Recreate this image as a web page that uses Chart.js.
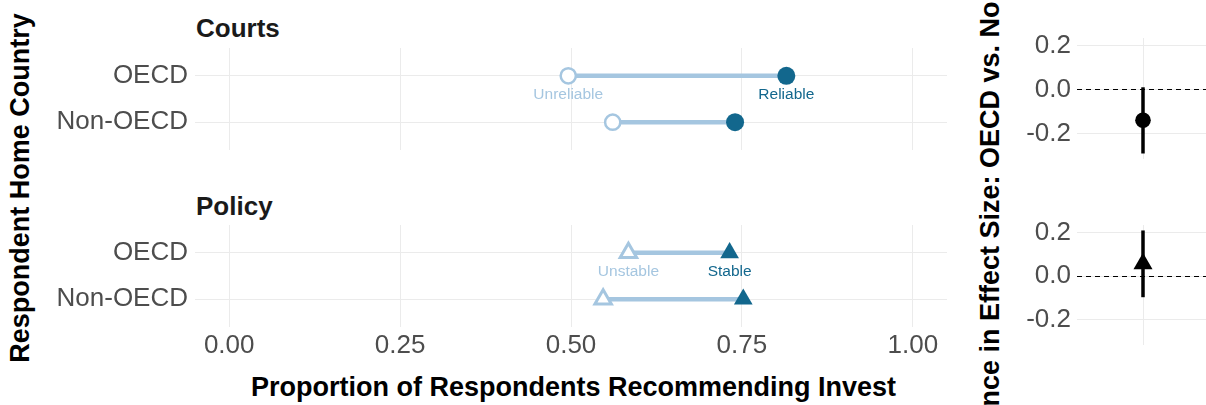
<!DOCTYPE html>
<html>
<head>
<meta charset="utf-8">
<script src="https://cdn.jsdelivr.net/npm/chart.js@4/dist/chart.umd.min.js"></script>
<style>
  html, body { margin: 0; padding: 0; background: #fff; }
  body { position: relative; width: 1206px; height: 405px; overflow: hidden; font-family: "Liberation Sans", Arial, Helvetica, sans-serif; }
  canvas { position: absolute; }
  .txt { position: absolute; white-space: nowrap; font-weight: bold; font-size: 27px; line-height: 27px; color: #000; }
  .strip { color: #1a1a1a; font-size: 26px; line-height: 26px; }
  .rot { height: 30px; line-height: 30px; text-align: center; transform: rotate(-90deg); }
</style>
</head>
<body>
<div class="txt strip" style="left:196px; top:15px;">Courts</div>
<div class="txt strip" style="left:196px; top:193px;">Policy</div>
<div class="txt" style="left:195px; top:374px; width:757px; text-align:center;">Proportion of Respondents Recommending Invest</div>
<div class="txt rot" style="left:-180.5px; top:173px; width:400px;">Respondent Home Country</div>
<div class="txt rot" style="left:640px; top:180px; width:700px;">Difference in Effect Size: OECD vs. Non-OECD</div>

<canvas id="courts" width="960" height="102" style="left:0; top:48px;"></canvas>
<canvas id="policy" width="960" height="142" style="left:0; top:225px;"></canvas>
<canvas id="diffCourts" width="249" height="139" style="left:960px; top:20px;"></canvas>
<canvas id="diffPolicy" width="249" height="138" style="left:960px; top:207px;"></canvas>

<script>
// data
const rowLabels = ['OECD', 'Non-OECD'];
const xTickValues = [0, 0.25, 0.5, 0.75, 1];
const courtsUnreliable = [0.496, 0.561];
const courtsReliable = [0.815, 0.740];
const policyUnstable = [0.584, 0.547];
const policyStable = [0.732, 0.752];
const courtsLabels = ['Unreliable', 'Reliable'];
const policyLabels = ['Unstable', 'Stable'];

const diffTicks = [-0.2, 0, 0.2];
const diffEstimate = [-0.14, 0.056];
const diffLower = [-0.291, -0.097];
const diffUpper = [0.01, 0.209];

const DARK = '#12678D';
const LIGHT = '#A5C6E0';
const GRID = '#EBEBEB';
const TICK = '#4D4D4D';
const FONT = '"Liberation Sans", Arial, Helvetica, sans-serif';

Chart.defaults.font.family = FONT;
Chart.defaults.animation = false;

// text labels under the OECD row
const pointLabels = {
    id: 'pointLabels',
    afterDatasetsDraw(chart, args, opts) {
        const { ctx, scales: { x, y } } = chart;
        ctx.save();
        ctx.font = '15.5px ' + FONT;
        ctx.textAlign = 'center';
        ctx.textBaseline = 'middle';
        opts.items.forEach(it => {
            ctx.fillStyle = it.color;
            ctx.fillText(it.text, x.getPixelForValue(it.x), y.getPixelForValue(it.y));
        });
        ctx.restore();
    }
};

// dashed reference line at 0
const zeroLine = {
    id: 'zeroLine',
    beforeDatasetsDraw(chart) {
        const { ctx, chartArea, scales: { y } } = chart;
        const py = Math.round(y.getPixelForValue(0)) + 0.5;
        ctx.save();
        ctx.setLineDash([5, 4]);
        ctx.strokeStyle = '#000';
        ctx.lineWidth = 1;
        ctx.beginPath();
        ctx.moveTo(chartArea.left, py);
        ctx.lineTo(chartArea.right, py);
        ctx.stroke();
        ctx.restore();
    }
};

const markers = {
    circle: { open: { r: 7.6, bw: 2.5 }, filled: { r: 9 } },
    triangle: { open: { r: 9.5, bw: 3 }, filled: { r: 10.8 } }
};

function dumbbellChart(id, lows, highs, labels, shape, showTicks) {
    const m = markers[shape];
    const segments = rowLabels.map((r, i) => ({
        data: [{ x: lows[i], y: i + 1 }, { x: highs[i], y: i + 1 }],
        showLine: true,
        borderColor: LIGHT,
        borderWidth: 4.5,
        pointRadius: 0,
        order: 2
    }));
    return new Chart(document.getElementById(id), {
        type: 'scatter',
        data: {
            datasets: [
                {
                    data: rowLabels.map((r, i) => ({ x: highs[i], y: i + 1 })),
                    pointStyle: shape,
                    pointRadius: m.filled.r,
                    backgroundColor: DARK,
                    borderWidth: 0,
                    order: 0
                },
                {
                    data: rowLabels.map((r, i) => ({ x: lows[i], y: i + 1 })),
                    pointStyle: shape,
                    pointRadius: m.open.r,
                    backgroundColor: '#fff',
                    borderColor: LIGHT,
                    borderWidth: m.open.bw,
                    order: 1
                },
                ...segments
            ]
        },
        options: {
            responsive: false,
            events: [],
            layout: { autoPadding: false, padding: { left: 0, top: 0, bottom: 0, right: 13 } },
            plugins: {
                legend: { display: false },
                tooltip: { enabled: false },
                pointLabels: {
                    items: [
                        { text: labels[0], x: lows[0], y: 1.4, color: LIGHT },
                        { text: labels[1], x: highs[0], y: 1.4, color: DARK }
                    ]
                }
            },
            scales: {
                x: {
                    type: 'linear',
                    min: -0.05,
                    max: 1.05,
                    afterBuildTicks: s => { s.ticks = xTickValues.map(v => ({ value: v })); },
                    grid: { color: GRID, lineWidth: 1, drawTicks: false },
                    border: { display: false },
                    ticks: {
                        display: showTicks,
                        padding: 3,
                        color: TICK,
                        font: { size: 26 },
                        autoSkip: false,
                        maxRotation: 0,
                        callback: v => v.toFixed(2)
                    },
                    afterFit: s => {
                        s.height = showTicks ? 40 : 0;
                        s.paddingLeft = 0; s.paddingRight = 0;
                    }
                },
                y: {
                    type: 'linear',
                    reverse: true,
                    min: 0.4,
                    max: 2.6,
                    afterBuildTicks: s => { s.ticks = rowLabels.map((r, i) => ({ value: i + 1 })); },
                    grid: { color: GRID, lineWidth: 1, drawTicks: false },
                    border: { display: false },
                    ticks: {
                        padding: 7,
                        color: TICK,
                        font: { size: 26 },
                        autoSkip: false,
                        callback: (v, i) => rowLabels[i]
                    },
                    afterFit: s => {
                        s.width = 195;
                        s.paddingTop = 0; s.paddingBottom = 0;
                    }
                }
            }
        },
        plugins: [pointLabels]
    });
}

// shared y range for the difference panels, ggplot-style 5% expansion
const diffLo = Math.min(...diffLower);
const diffHi = Math.max(...diffUpper);
const diffPad = (diffHi - diffLo) * 0.05;

function diffChart(id, k, shape, radius) {
    return new Chart(document.getElementById(id), {
        type: 'scatter',
        data: {
            datasets: [
                {
                    data: [{ x: 1, y: diffEstimate[k] }],
                    pointStyle: shape,
                    pointRadius: radius,
                    backgroundColor: '#000',
                    borderWidth: 0,
                    order: 0
                },
                {
                    data: [{ x: 1, y: diffLower[k] }, { x: 1, y: diffUpper[k] }],
                    showLine: true,
                    borderColor: '#000',
                    borderWidth: 3.5,
                    pointRadius: 0,
                    order: 1
                }
            ]
        },
        options: {
            responsive: false,
            events: [],
            layout: { autoPadding: false, padding: { top: 18, left: 0, right: 0, bottom: 0 } },
            plugins: { legend: { display: false }, tooltip: { enabled: false } },
            scales: {
                x: {
                    type: 'linear',
                    min: 0.4,
                    max: 1.6,
                    afterBuildTicks: s => { s.ticks = [{ value: 1 }]; },
                    grid: { color: GRID, lineWidth: 1, drawTicks: false },
                    border: { display: false },
                    ticks: { display: false },
                    afterFit: s => { s.height = 0; s.paddingLeft = 0; s.paddingRight = 0; }
                },
                y: {
                    type: 'linear',
                    min: diffLo - diffPad,
                    max: diffHi + diffPad,
                    afterBuildTicks: s => { s.ticks = diffTicks.map(v => ({ value: v })); },
                    grid: { color: GRID, lineWidth: 1, drawTicks: false },
                    border: { display: false },
                    ticks: {
                        padding: 6,
                        color: TICK,
                        font: { size: 26 },
                        autoSkip: false,
                        callback: v => v.toFixed(1)
                    },
                    afterFit: s => { s.width = 117; s.paddingTop = 0; s.paddingBottom = 0; }
                }
            }
        },
        plugins: [zeroLine]
    });
}

dumbbellChart('courts', courtsUnreliable, courtsReliable, courtsLabels, 'circle', false);
dumbbellChart('policy', policyUnstable, policyStable, policyLabels, 'triangle', true);
diffChart('diffCourts', 0, 'circle', 7.8);
diffChart('diffPolicy', 1, 'triangle', 11);
</script>
</body>
</html>
